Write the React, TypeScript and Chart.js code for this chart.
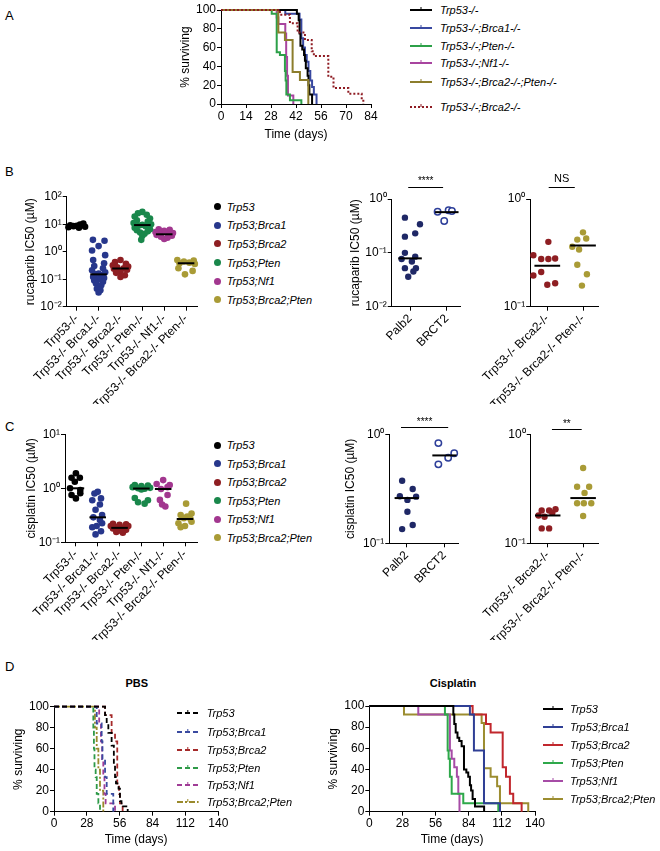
import React, { useEffect, useRef } from 'react';
import { Chart, registerables } from 'chart.js';

Chart.register(...registerables);

const FONT = '"Liberation Sans", Arial, Helvetica, sans-serif';

type Pt = [number, number];

// ---------------- Panel A: survival (days, % surviving) ----------------
const aDayTicks = [0, 14, 28, 42, 56, 70, 84];
const survPctTicks = [0, 20, 40, 60, 80, 100];
const aNames = ['Trp53-/-', 'Trp53-/-;Brca1-/-', 'Trp53-/-;Pten-/-', 'Trp53-/-;Nf1-/-', 'Trp53-/-;Brca2-/-;Pten-/-', 'Trp53-/-;Brca2-/-'];
const aTrp53: Pt[] = [[0, 100], [42.5, 96], [43.5, 89], [44, 75], [44.5, 62], [45.5, 58], [46.5, 52], [47, 46], [47.5, 38], [48.5, 30], [49, 20], [49.5, 10], [51, 0]];
const aBrca1: Pt[] = [[0, 100], [36, 96], [44, 90], [45, 70], [46, 60], [47, 52], [48, 45], [49, 35], [50, 25], [51, 18], [52, 10], [53.5, 0]];
const aPten: Pt[] = [[0, 100], [28.4, 96], [31.2, 55], [33, 52], [35.8, 35], [36.2, 25], [36.6, 10], [38.6, 4], [45, 0]];
const aNf1: Pt[] = [[0, 100], [31.2, 92], [32.1, 85], [36, 75], [36.5, 50], [37, 30], [37.5, 9], [40.5, 0]];
const aBrca2Pten: Pt[] = [[0, 100], [32.1, 76], [35.8, 68], [40.1, 34], [44.2, 25.5], [48.9, 0]];
const aBrca2: Pt[] = [[0, 100], [33, 95], [38.6, 86], [42.9, 76], [47, 68], [50.8, 56], [52, 51], [60.1, 29], [63, 17], [71.3, 11], [78.8, 5], [79.7, 0]];

// ---------------- Panel B / C: IC50 scatter ----------------
const groupNames = ['Trp53', 'Trp53;Brca1', 'Trp53;Brca2', 'Trp53;Pten', 'Trp53;Nf1', 'Trp53;Brca2;Pten'];
const genoCats = ['Trp53-/-', 'Trp53-/- Brca1-/-', 'Trp53-/- Brca2-/-', 'Trp53-/- Pten-/-', 'Trp53-/- Nf1-/-', 'Trp53-/- Brca2-/- Pten-/-'];
const brca1Cats = ['Palb2', 'BRCT2'];
const brca2Cats = ['Trp53-/- Brca2-/-', 'Trp53-/- Brca2-/- Pten-/-'];

const logTickValues = [0.01, 0.1, 1, 10, 100];
const logTickLabels = ['10⁻²', '10⁻¹', '10⁰', '10¹', '10²'];

// B1 rucaparib IC50 (µM) per genotype; offsets = horizontal spread within a column
const rucTrp53 = [10.5, 9.8, 9.2, 8.8, 8.5, 8.1, 7.8, 7.4];
const rucTrp53Off = [0.3, 0.15, -0.3, 0.0, -0.15, 0.38, -0.38, 0.1];
const rucBrca1 = [2.7, 2.5, 1.6, 1.1, 0.75, 0.5, 0.38, 0.3, 0.25, 0.21, 0.18, 0.16, 0.15, 0.14, 0.12, 0.11, 0.1, 0.09, 0.08, 0.07, 0.06, 0.052, 0.045, 0.04, 0.033];
const rucBrca1Off = [-0.26, 0.27, 0.0, -0.3, 0.3, -0.25, 0.25, -0.2, 0.2, -0.3, 0.3, 0.0, -0.15, 0.15, -0.25, 0.25, 0.0, -0.2, 0.2, -0.12, 0.12, 0.0, -0.08, 0.08, 0.0];
const rucBrca2 = [0.5, 0.42, 0.36, 0.32, 0.29, 0.27, 0.25, 0.24, 0.22, 0.2, 0.17, 0.14, 0.12];
const rucBrca2Off = [0, -0.25, 0.25, -0.35, 0.35, -0.15, 0.15, -0.3, 0.3, 0, -0.2, 0.2, 0];
const rucPten = [28, 25, 22, 19, 16, 14, 12.5, 11, 10, 9.5, 9, 8.5, 7.5, 6.5, 6, 5.5, 5, 4.5, 3.8, 2.7];
const rucPtenOff = [0, -0.2, 0.2, -0.35, 0.35, -0.25, 0.25, -0.4, 0.4, 0.0, -0.15, 0.15, -0.35, 0.35, -0.25, 0.25, -0.1, 0.1, 0.0, -0.05];
const rucNf1 = [6.5, 6.2, 5.8, 5.2, 4.8, 4.5, 4.3, 4.1, 3.8, 3.5, 3.2, 2.9];
const rucNf1Off = [-0.25, 0.25, 0.0, -0.4, 0.4, -0.2, 0.2, -0.35, 0.35, -0.15, 0.15, 0];
const rucBrca2Pten = [0.5, 0.48, 0.44, 0.4, 0.38, 0.36, 0.25, 0.2, 0.15];
const rucBrca2PtenOff = [-0.4, 0.35, -0.1, 0.15, -0.3, 0.4, -0.35, 0.3, -0.05];
const rucMedians = [8.5, 0.15, 0.245, 9.3, 4.3, 0.38];

// B2 rucaparib, Brca1 alleles
const rucPalb2 = [0.45, 0.34, 0.23, 0.2, 0.1, 0.085, 0.077, 0.069, 0.052, 0.052, 0.045, 0.036];
const rucPalb2Off = [-0.14, 0.27, 0.14, -0.14, -0.14, 0.14, -0.23, 0.05, -0.14, 0.16, 0.09, -0.05];
const rucBrct2 = [0.58, 0.39, 0.62, 0.6];
const rucBrct2Off = [-0.25, -0.07, 0.05, 0.14];
const rucBrca1Medians = [0.079, 0.57];

// B3 rucaparib, Brca2 vs Brca2;Pten
const rucB3Brca2 = [0.4, 0.3, 0.277, 0.277, 0.28, 0.21, 0.195, 0.16, 0.165];
const rucB3Brca2Off = [0.03, -0.39, -0.17, 0.03, 0.22, -0.17, -0.39, 0.0, 0.22];
const rucB3Brca2Pten = [0.49, 0.42, 0.43, 0.36, 0.34, 0.245, 0.2, 0.157];
const rucB3Brca2PtenOff = [0.0, -0.16, 0.09, -0.3, -0.11, -0.16, 0.11, -0.03];
const rucBrca2Medians = [0.24, 0.37];

// C1 cisplatin IC50 (µM) per genotype
const cisTrp53 = [1.9, 1.57, 1.57, 1.32, 1.0, 0.93, 0.81, 0.75, 0.65];
const cisTrp53Off = [0, -0.2, 0.18, -0.05, -0.27, 0.2, 0.2, -0.2, 0];
const cisBrca1 = [0.86, 0.8, 0.65, 0.6, 0.5, 0.4, 0.32, 0.29, 0.26, 0.225, 0.2, 0.19, 0.16, 0.14];
const cisBrca1Off = [0, -0.15, 0.15, -0.25, 0.1, -0.1, 0.2, -0.2, 0.1, 0.2, -0.05, -0.25, 0.15, -0.1];
const cisBrca2 = [0.22, 0.215, 0.21, 0.2, 0.2, 0.19, 0.185, 0.18, 0.17, 0.165, 0.155, 0.15];
const cisBrca2Off = [-0.3, 0.3, 0.0, -0.4, 0.4, -0.15, 0.15, -0.3, 0.3, 0, -0.15, 0.15];
const cisPten = [1.15, 1.12, 1.1, 1.05, 1.02, 1.0, 0.98, 0.95, 0.66, 0.6, 0.55, 0.52];
const cisPtenOff = [-0.3, 0.3, 0.0, -0.4, 0.4, -0.15, 0.15, 0.0, -0.3, 0.3, -0.15, 0.15];
const cisNf1 = [1.42, 1.2, 1.15, 1.05, 0.97, 0.75, 0.61, 0.5, 0.46];
const cisNf1Off = [0, -0.3, 0.3, 0.2, -0.1, 0.2, -0.15, -0.05, 0.1];
const cisBrca2Pten = [0.52, 0.34, 0.32, 0.3, 0.28, 0.27, 0.24, 0.225, 0.2, 0.19];
const cisBrca2PtenOff = [0.05, 0.3, -0.2, 0.1, -0.05, 0.25, 0.3, -0.3, 0.0, -0.2];
const cisMedians = [1.0, 0.29, 0.185, 0.99, 0.97, 0.27];

// C2 cisplatin, Brca1 alleles
const cisPalb2 = [0.375, 0.315, 0.27, 0.268, 0.25, 0.195, 0.135, 0.147];
const cisPalb2Off = [-0.12, 0.16, -0.18, 0.25, 0.02, 0.02, -0.12, 0.16];
const cisBrct2 = [0.83, 0.67, 0.61, 0.53];
const cisBrct2Off = [-0.16, 0.26, 0.1, -0.16];
const cisBrca1Medians = [0.26, 0.64];

// C3 cisplatin, Brca2 vs Brca2;Pten
const cisC3Brca2 = [0.2, 0.2, 0.205, 0.18, 0.175, 0.19, 0.137, 0.137];
const cisC3Brca2Off = [-0.17, 0.04, 0.22, -0.26, -0.09, 0.13, 0.04, -0.17];
const cisC3Brca2Pten = [0.49, 0.33, 0.33, 0.29, 0.233, 0.233, 0.233, 0.178];
const cisC3Brca2PtenOff = [0, -0.17, 0.17, 0.04, -0.17, 0.02, 0.23, 0];
const cisBrca2Medians = [0.18, 0.26];

// ---------------- Panel D: survival after treatment ----------------
const dDayTicks = [0, 28, 56, 84, 112, 140];
const pbsTrp53: Pt[] = [[0, 100], [43.5, 92], [44.9, 84], [46.3, 75], [49.1, 63], [51, 45], [52, 33], [52.8, 27], [55, 22], [56.2, 10], [57.5, 5], [62.8, 0]];
const pbsBrca1: Pt[] = [[0, 100], [36.4, 84], [40.6, 67], [41.3, 50], [43.5, 33], [44.9, 17], [50.5, 0]];
const pbsBrca2: Pt[] = [[0, 100], [43.5, 92], [49.1, 75], [52, 67], [53.9, 25], [55.4, 17], [56.2, 8], [58.5, 0]];
const pbsPten: Pt[] = [[0, 100], [33.5, 80], [34, 60], [34.5, 40], [35.5, 33], [36.4, 17], [37.8, 8], [39.2, 0]];
const pbsNf1: Pt[] = [[0, 100], [38.5, 83], [40, 67], [41, 50], [42, 33], [43, 17], [44, 8], [52, 0]];
const pbsBrca2Pten: Pt[] = [[0, 100], [34.9, 80], [36.4, 60], [37.8, 40], [39.2, 20], [42, 0]];
const cisSurvTrp53: Pt[] = [[0, 100], [71, 92], [71.8, 83], [73, 75], [74.5, 70], [76, 67], [78, 62], [80, 40], [82, 37], [83.6, 33], [85, 25], [86, 20], [87.3, 12], [89.3, 5], [97, 0]];
const cisSurvBrca1: Pt[] = [[0, 100], [85, 92], [88.4, 58], [96.9, 8], [110.4, 0]];
const cisSurvBrca2: Pt[] = [[0, 100], [87.3, 92], [98.6, 83], [102.5, 75], [112.7, 42], [115.5, 33], [118.8, 17], [121.6, 8], [128.7, 0]];
const cisSurvPten: Pt[] = [[0, 100], [63.9, 92], [66.2, 58], [67, 50], [68.1, 33], [69.6, 17], [79.4, 8], [109, 0]];
const cisSurvNf1: Pt[] = [[0, 100], [41.4, 92], [68.1, 58], [69.6, 50], [71.8, 42], [74, 33], [75.2, 17], [76.2, 0]];
const cisSurvBrca2Pten: Pt[] = [[0, 100], [29.3, 92], [94.9, 84], [96.9, 41], [102.5, 33], [108, 24], [110.4, 8], [134.3, 0]];

// ---------------- styles ----------------
const dotColors = ['#000000', '#27378c', '#8e1e22', '#19874b', '#a2378f', '#a99b36'];
const aColors = ['#000000', '#3848a0', '#2ca048', '#a8449f', '#8c7d2c', '#8e1b22'];
const pbsColors = ['#000000', '#3a4aa0', '#a52a2a', '#2e9a48', '#a03c96', '#9a8a2c'];
const cisColors = ['#000000', '#2f3f95', '#c1272d', '#2ea84a', '#a64ca6', '#9c8d30'];
const palbColor = '#1f2866';

type Geo = { cl: number; ct: number; cr: number; cb: number; al: number; at: number; ar: number; ab: number };

const axisFont = { family: FONT, size: 12 };

function axisCommon() {
  return {
    border: { display: true, color: '#000', width: 1 },
    grid: { display: true, drawOnChartArea: false, drawTicks: true, tickLength: 4, tickColor: '#000', tickWidth: 1 },
  };
}

function titleOpt(text?: string) {
  return text
    ? { display: true, text, color: '#000', font: axisFont, padding: { top: 4, bottom: 4 } }
    : { display: false };
}

function xLinear(g: Geo, min: number, max: number, tickVals: number[], label: (v: number) => string, rot: number, title?: string) {
  return {
    type: 'linear', position: 'bottom', min, max, ...axisCommon(),
    afterBuildTicks: (s: any) => { s.ticks = tickVals.map((v) => ({ value: v })); },
    afterFit: (s: any) => { s.height = g.cb - g.ab; },
    ticks: { color: '#000', font: axisFont, padding: 1, autoSkip: false, maxRotation: rot, minRotation: rot, callback: (v: any) => label(Number(v)) },
    title: titleOpt(title),
  };
}

function yAxis(g: Geo, type: string, min: number, max: number, tickVals: number[], label: (v: number) => string, title?: string) {
  return {
    type, position: 'left', min, max, ...axisCommon(),
    afterBuildTicks: (s: any) => { s.ticks = tickVals.map((v) => ({ value: v })); },
    afterFit: (s: any) => { s.width = g.al - g.cl; },
    ticks: { color: '#000', font: axisFont, padding: 1, autoSkip: false, callback: (v: any) => label(Number(v)) },
    title: titleOpt(title),
  };
}

function baseOptions(g: Geo) {
  return {
    responsive: false,
    animation: false,
    events: [],
    layout: { padding: { top: g.at - g.ct, right: g.cr - g.ar, left: 0, bottom: 0 } },
    plugins: { legend: { display: false }, tooltip: { enabled: false } },
  };
}

type Curve = { pts: Pt[]; color: string; dash?: number[]; width?: number; order?: number };

function survivalConfig(g: Geo, xMax: number, xTicks: number[], curves: Curve[]) {
  return {
    type: 'line',
    data: {
      datasets: curves.map((c) => ({
        data: c.pts.map(([x, y]) => ({ x, y })),
        borderColor: c.color,
        borderWidth: c.width ?? 2,
        borderDash: c.dash ?? [],
        stepped: 'before',
        pointRadius: 0,
        fill: false,
        clip: false,
        order: c.order ?? 5,
      })),
    },
    options: {
      ...baseOptions(g),
      scales: {
        x: xLinear(g, 0, xMax, xTicks, (v) => String(v), 0, 'Time (days)'),
        y: yAxis(g, 'linear', 0, 100, survPctTicks, (v) => String(v), '% surviving'),
      },
    },
  };
}

type Group = { vals: number[]; offs: number[]; color: string; open?: boolean; r?: number };
type Sig = { x1: number; x2: number; text: string; size: number; barGap: number; textGap: number };

function logLabel(v: number) {
  const i = logTickValues.findIndex((t) => Math.abs(Math.log10(t) - Math.log10(v)) < 1e-6);
  return i >= 0 ? logTickLabels[i] : '';
}

function scatterConfig(g: Geo, cats: string[], xMin: number, xMax: number, yMin: number, yMax: number,
  groups: Group[], medians: number[], medHalf: number, yTitle?: string, sigs: Sig[] = []) {
  const yTicks = logTickValues.filter((v) => v >= yMin * 0.999 && v <= yMax * 1.001);
  const catTicks = cats.map((_, i) => i + 1);
  const medSets = medians.map((m, i) => ({
    type: 'line',
    data: [{ x: i + 1 - medHalf, y: m }, { x: i + 1 + medHalf, y: m }],
    borderColor: '#000', borderWidth: 2, pointRadius: 0, showLine: true, clip: false, order: 0,
  }));
  const ptSets = groups.map((gr, i) => ({
    type: 'scatter',
    data: gr.vals.map((v, j) => ({ x: i + 1 + gr.offs[j], y: v })),
    pointRadius: gr.r ?? 3.3,
    pointBackgroundColor: gr.open ? '#ffffff' : gr.color,
    pointBorderColor: gr.color,
    pointBorderWidth: gr.open ? 1.5 : 0,
    showLine: false, clip: false, order: 1,
  }));
  const sigPlugin = {
    id: 'sig',
    afterDraw(chart: any) {
      const ctx = chart.ctx;
      const xs = chart.scales.x;
      const top = chart.chartArea.top;
      sigs.forEach((s) => {
        const x1 = xs.getPixelForValue(s.x1);
        const x2 = xs.getPixelForValue(s.x2);
        ctx.save();
        ctx.strokeStyle = '#000';
        ctx.lineWidth = 1;
        ctx.beginPath();
        ctx.moveTo(x1, Math.round(top - s.barGap) + 0.5);
        ctx.lineTo(x2, Math.round(top - s.barGap) + 0.5);
        ctx.stroke();
        ctx.fillStyle = '#000';
        ctx.font = `${s.size}px ${FONT}`;
        ctx.textAlign = 'center';
        ctx.textBaseline = 'alphabetic';
        ctx.fillText(s.text, (x1 + x2) / 2, top - s.textGap);
        ctx.restore();
      });
    },
  };
  return {
    type: 'scatter',
    data: { datasets: [...medSets, ...ptSets] },
    options: {
      ...baseOptions(g),
      scales: {
        x: xLinear(g, xMin, xMax, catTicks, (v) => cats[Math.round(v) - 1] ?? '', 45),
        y: yAxis(g, 'logarithmic', yMin, yMax, yTicks, logLabel, yTitle),
      },
    },
    plugins: [sigPlugin],
  };
}

function ChartCanvas({ geo, make }: { geo: Geo; make: () => any }) {
  const ref = useRef<HTMLCanvasElement | null>(null);
  useEffect(() => {
    if (!ref.current) return;
    const chart = new Chart(ref.current, make());
    return () => chart.destroy();
  }, []);
  const w = geo.cr - geo.cl;
  const h = geo.cb - geo.ct;
  return (
    <canvas ref={ref} width={w} height={h}
      style={{ position: 'absolute', left: geo.cl, top: geo.ct, width: w, height: h, display: 'block' }} />
  );
}

// ---------- HTML text helpers ----------
function Txt({ x, y, children, size = 11, italic = false, bold = false, center = false }: any) {
  return (
    <div style={{
      position: 'absolute', left: x, top: y - 8, height: 16, lineHeight: '16px', whiteSpace: 'nowrap',
      fontFamily: FONT, fontSize: size, fontStyle: italic ? 'italic' : 'normal', fontWeight: bold ? 'bold' : 'normal',
      color: '#000', transform: center ? 'translateX(-50%)' : undefined,
    }}>{children}</div>
  );
}

function LineSample({ x, y, w, color, dash }: { x: number; y: number; w: number; color: string; dash?: string }) {
  return (
    <svg width={w} height={10} style={{ position: 'absolute', left: x, top: y - 5, overflow: 'visible' }}>
      <line x1={0} y1={5} x2={w} y2={5} stroke={color} strokeWidth={2} strokeDasharray={dash} />
      <line x1={w / 2} y1={2} x2={w / 2} y2={5} stroke={color} strokeWidth={1} />
    </svg>
  );
}

function Dot({ x, y, color }: { x: number; y: number; color: string }) {
  return <div style={{ position: 'absolute', left: x - 3.5, top: y - 3.5, width: 7, height: 7, borderRadius: '50%', background: color }} />;
}

// ---------- geometry ----------
const geoA: Geo = { cl: 174, ct: 0, cr: 386, cb: 146, al: 221, at: 10, ar: 371, ab: 104 };
const geoB1: Geo = { cl: 19, ct: 186, cr: 207, cb: 404, al: 66.7, at: 196.7, ar: 197, ab: 306.7 };
const geoB2: Geo = { cl: 344, ct: 165, cr: 470, cb: 404, al: 391.7, at: 199, ar: 460, ab: 306.7 };
const geoB3: Geo = { cl: 470, ct: 165, cr: 612, cb: 404, al: 525, at: 199, ar: 598, ab: 306.7 };
const geoC1: Geo = { cl: 20, ct: 424, cr: 207, cb: 640, al: 65, at: 434.3, ar: 197, ab: 542.3 };
const geoC2: Geo = { cl: 339, ct: 405, cr: 468, cb: 640, al: 389.3, at: 434.3, ar: 458, ab: 543.3 };
const geoC3: Geo = { cl: 470, ct: 405, cr: 612, cb: 640, al: 526.7, at: 434.3, ar: 598, ab: 543.3 };
const geoD1: Geo = { cl: 7, ct: 696, cr: 233, cb: 851, al: 54, at: 706.7, ar: 218.3, ab: 811.7 };
const geoD2: Geo = { cl: 322, ct: 696, cr: 550, cb: 851, al: 369.3, at: 706, ar: 535, ab: 811.7 };

export default function App() {
  const aCurves: Curve[] = [
    { pts: aTrp53, color: aColors[0], order: 2 },
    { pts: aBrca1, color: aColors[1], order: 3 },
    { pts: aPten, color: aColors[2], order: 4 },
    { pts: aNf1, color: aColors[3], order: 5 },
    { pts: aBrca2Pten, color: aColors[4], order: 1 },
    { pts: aBrca2, color: aColors[5], dash: [2, 2], order: 0 },
  ];
  const pbsPts = [pbsTrp53, pbsBrca1, pbsBrca2, pbsPten, pbsNf1, pbsBrca2Pten];
  const pbsCurves: Curve[] = pbsPts.map((p, i) => ({
    pts: p, color: pbsColors[i], dash: i === 5 ? [6, 2, 2, 2] : [5, 3], width: 1.8, order: i,
  }));
  const cisPts = [cisSurvTrp53, cisSurvBrca1, cisSurvBrca2, cisSurvPten, cisSurvNf1, cisSurvBrca2Pten];
  const cisCurves: Curve[] = cisPts.map((p, i) => ({ pts: p, color: cisColors[i], width: 2, order: i }));

  const rucGroups: Group[] = [
    { vals: rucTrp53, offs: rucTrp53Off, color: dotColors[0] },
    { vals: rucBrca1, offs: rucBrca1Off, color: dotColors[1] },
    { vals: rucBrca2, offs: rucBrca2Off, color: dotColors[2] },
    { vals: rucPten, offs: rucPtenOff, color: dotColors[3] },
    { vals: rucNf1, offs: rucNf1Off, color: dotColors[4] },
    { vals: rucBrca2Pten, offs: rucBrca2PtenOff, color: dotColors[5] },
  ];
  const cisGroups: Group[] = [
    { vals: cisTrp53, offs: cisTrp53Off, color: dotColors[0] },
    { vals: cisBrca1, offs: cisBrca1Off, color: dotColors[1] },
    { vals: cisBrca2, offs: cisBrca2Off, color: dotColors[2] },
    { vals: cisPten, offs: cisPtenOff, color: dotColors[3] },
    { vals: cisNf1, offs: cisNf1Off, color: dotColors[4] },
    { vals: cisBrca2Pten, offs: cisBrca2PtenOff, color: dotColors[5] },
  ];

  const aLegendY = [10, 28.3, 45.7, 63.3, 81.7, 106.7];
  const bLegendY = [206.7, 225.3, 243.9, 262.5, 281.1, 299.7];
  const cLegendY = [445, 463.5, 482, 500.5, 519, 537.5];
  const d1LegendY = [713.3, 731.7, 750, 768.3, 785, 801.7];
  const d2LegendY = [709.3, 726.7, 745, 763.3, 780.7, 799.3];

  return (
    <div style={{ position: 'absolute', left: 0, top: 0, width: 660, height: 851, overflow: 'hidden', background: '#fff' }}>
      <ChartCanvas geo={geoA} make={() => survivalConfig(geoA, 84, aDayTicks, aCurves)} />
      <ChartCanvas geo={geoB1} make={() => scatterConfig(geoB1, genoCats, 0.54, 6.5, 0.01, 100, rucGroups, rucMedians, 0.38, 'rucaparib IC50 (µM)')} />
      <ChartCanvas geo={geoB2} make={() => scatterConfig(geoB2, brca1Cats, 0.5, 2.36, 0.01, 1,
        [{ vals: rucPalb2, offs: rucPalb2Off, color: palbColor, r: 3.2 }, { vals: rucBrct2, offs: rucBrct2Off, color: '#2e3f9a', open: true, r: 3.2 }],
        rucBrca1Medians, 0.32, 'rucaparib IC50 (µM)',
        [{ x1: 0.95, x2: 1.9, text: '****', size: 10, barGap: 12.3, textGap: 15.3 }])} />
      <ChartCanvas geo={geoB3} make={() => scatterConfig(geoB3, brca2Cats, 0.52, 2.42, 0.1, 1,
        [{ vals: rucB3Brca2, offs: rucB3Brca2Off, color: dotColors[2], r: 3.2 }, { vals: rucB3Brca2Pten, offs: rucB3Brca2PtenOff, color: dotColors[5], r: 3.2 }],
        rucBrca2Medians, 0.36, undefined,
        [{ x1: 1.04, x2: 1.77, text: 'NS', size: 11, barGap: 12.3, textGap: 17 }])} />
      <ChartCanvas geo={geoC1} make={() => scatterConfig(geoC1, genoCats, 0.5, 6.55, 0.1, 10, cisGroups, cisMedians, 0.38, 'cisplatin IC50 (µM)')} />
      <ChartCanvas geo={geoC2} make={() => scatterConfig(geoC2, brca1Cats, 0.54, 2.36, 0.1, 1,
        [{ vals: cisPalb2, offs: cisPalb2Off, color: palbColor, r: 3.2 }, { vals: cisBrct2, offs: cisBrct2Off, color: '#2e3f9a', open: true, r: 3.2 }],
        cisBrca1Medians, 0.32, 'cisplatin IC50 (µM)',
        [{ x1: 0.85, x2: 2.1, text: '****', size: 10, barGap: 7.6, textGap: 9.6 }])} />
      <ChartCanvas geo={geoC3} make={() => scatterConfig(geoC3, brca2Cats, 0.52, 2.42, 0.1, 1,
        [{ vals: cisC3Brca2, offs: cisC3Brca2Off, color: dotColors[2], r: 3.2 }, { vals: cisC3Brca2Pten, offs: cisC3Brca2PtenOff, color: dotColors[5], r: 3.2 }],
        cisBrca2Medians, 0.36, undefined,
        [{ x1: 1.12, x2: 1.96, text: '**', size: 10, barGap: 5, textGap: 7.6 }])} />
      <ChartCanvas geo={geoD1} make={() => survivalConfig(geoD1, 140, dDayTicks, pbsCurves)} />
      <ChartCanvas geo={geoD2} make={() => survivalConfig(geoD2, 140, dDayTicks, cisCurves)} />

      {/* panel letters */}
      <Txt x={5} y={16} size={13}>A</Txt>
      <Txt x={5} y={171.5} size={13}>B</Txt>
      <Txt x={5} y={426.5} size={13}>C</Txt>
      <Txt x={5} y={666.5} size={13}>D</Txt>

      {/* titles */}
      <Txt x={136.7} y={683.3} size={11} bold center>PBS</Txt>
      <Txt x={453} y={683.3} size={11} bold center>Cisplatin</Txt>

      {/* legend A */}
      {aNames.map((n, i) => (
        <React.Fragment key={'a' + i}>
          <LineSample x={410} y={aLegendY[i]} w={22} color={aColors[i]} dash={i === 5 ? '2,2' : undefined} />
          <Txt x={440} y={aLegendY[i]} italic>{n}</Txt>
        </React.Fragment>
      ))}

      {/* legend B */}
      {groupNames.map((n, i) => (
        <React.Fragment key={'b' + i}>
          <Dot x={217} y={bLegendY[i]} color={dotColors[i]} />
          <Txt x={226.7} y={bLegendY[i]} italic>{n}</Txt>
        </React.Fragment>
      ))}

      {/* legend C */}
      {groupNames.map((n, i) => (
        <React.Fragment key={'c' + i}>
          <Dot x={217} y={cLegendY[i]} color={dotColors[i]} />
          <Txt x={226.7} y={cLegendY[i]} italic>{n}</Txt>
        </React.Fragment>
      ))}

      {/* legend D1 */}
      {groupNames.map((n, i) => (
        <React.Fragment key={'d1' + i}>
          <LineSample x={176.7} y={d1LegendY[i]} w={21.6} color={pbsColors[i]} dash={i === 5 ? '6,2,2,2' : '5,3'} />
          <Txt x={206.7} y={d1LegendY[i]} italic>{n}</Txt>
        </React.Fragment>
      ))}

      {/* legend D2 */}
      {groupNames.map((n, i) => (
        <React.Fragment key={'d2' + i}>
          <LineSample x={543} y={d2LegendY[i]} w={20} color={cisColors[i]} />
          <Txt x={570} y={d2LegendY[i]} italic>{n}</Txt>
        </React.Fragment>
      ))}
    </div>
  );
}
